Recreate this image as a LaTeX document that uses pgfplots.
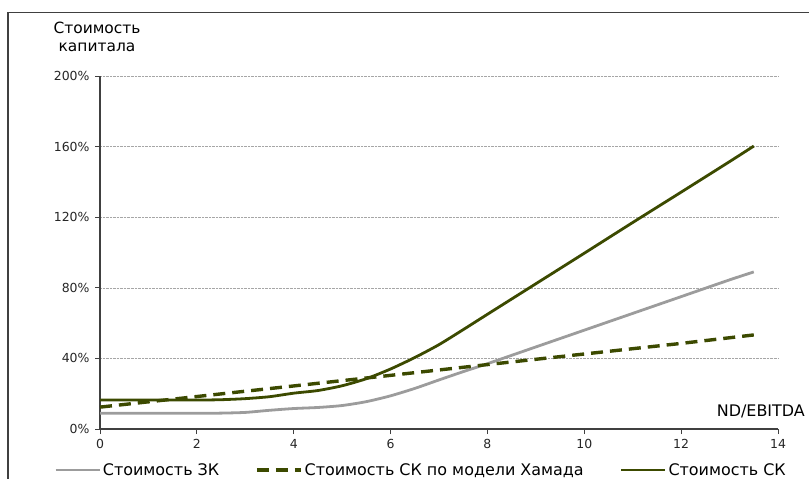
\documentclass[border=0pt]{standalone}
\usepackage{fontspec}
\setmainfont{DejaVu Sans}
\usepackage{pgfplots}
\pgfplotsset{compat=1.18}
\definecolor{darkolive}{HTML}{3C4A00}
\definecolor{zkgray}{HTML}{9C9C9C}
\definecolor{framegray}{HTML}{404040}
\begin{document}
\begin{tikzpicture}[x=1bp,y=1bp]
\useasboundingbox (0,0) rectangle (809,-479);
\draw[color=framegray, line width=1.1bp] (8,-479) -- (8,-12.5) -- (809,-12.5);
\begin{axis}[
  at={(100bp,-429bp)}, anchor=south west,
  scale only axis, width=678bp, height=353bp,
  xmin=0, xmax=14, ymin=0, ymax=200,
  axis x line=bottom, axis y line=left,
  axis line style={-, color=framegray, line width=1.2bp},
  tick style={color=framegray, line width=1bp},
  tick align=outside, major tick length=5bp,
  xtick={0,2,4,6,8,10,12,14}, xticklabels={0,2,4,6,8,10,12,14},
  ytick={0,40,80,120,160,200}, yticklabels={0\%,40\%,80\%,120\%,160\%,200\%},
  ticklabel style={font=\fontsize{12.5}{14}\selectfont, text=black!85},
  yticklabel style={xshift=-2bp},
  xticklabel style={yshift=-2bp},
  ymajorgrids, grid style={densely dotted, color=gray!70, line width=0.5bp},
  clip=false,
  legend columns=3,
  legend style={at={(-0.068,-0.116)}, anchor=west, draw=none, fill=none,
    font=\fontsize{16}{17}\selectfont, inner sep=0pt,
    nodes={inner sep=2bp},
    /tikz/every even column/.append style={column sep=34bp}},
  legend image code/.code={\draw[#1] (0bp,0bp) -- (44bp,0bp);},
]
\addplot[color=zkgray, line width=2.8bp, smooth, tension=0.4] table {
x y
0 8.9
1 8.9
2 8.9
2.5 9.0
3 9.4
3.5 10.6
4 11.6
4.5 12.2
5 13.3
5.5 15.5
6 18.8
6.5 23.0
7 27.8
7.5 32.5
8 37.0
9 46.5
10 56
11 65.5
12 75
13 84.5
13.5 89
};
\addlegendentry{Стоимость ЗК}
\addplot[color=darkolive, line width=3.4bp, dash pattern=on 12bp off 7bp] table {
x y
0 12.4
2 18.4
4 24.4
6 30.4
8 36.5
10 42.5
12 48.5
13.5 53.3
};
\addlegendentry{Стоимость СК по модели Хамада}
\addplot[color=darkolive, line width=2.8bp, smooth, tension=0.4] table {
x y
0 16.4
1 16.4
2 16.4
2.5 16.6
3 17.2
3.5 18.3
4 20.3
4.5 21.8
5 24.5
5.5 28.5
6 34
6.5 40.5
7 47.8
7.5 56.3
8 65
9 82.3
10 99.6
11 117
12 134.2
13 151.5
13.5 160.3
};
\addlegendentry{Стоимость СК}
\end{axis}
\node[anchor=base, align=center, font=\fontsize{15.5}{19}\selectfont, inner sep=0pt] at (97,-52) {Стоимость\\капитала};
\node[anchor=base east, font=\fontsize{16}{18}\selectfont, inner sep=0pt] at (805,-416.5) {ND/EBITDA};
\end{tikzpicture}
\end{document}
